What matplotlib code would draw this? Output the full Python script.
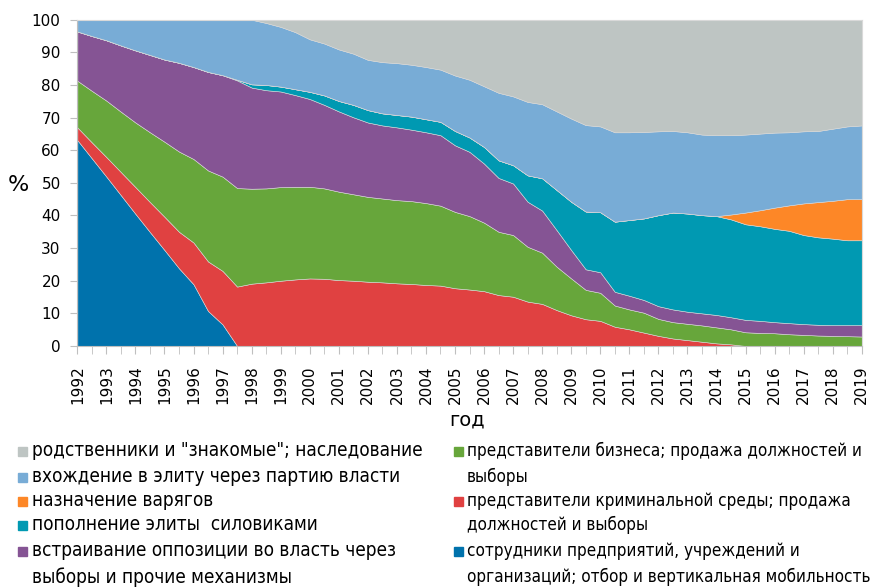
import numpy as np
import matplotlib
matplotlib.use("Agg")
import matplotlib.pyplot as plt
from matplotlib.patches import Rectangle
from matplotlib import font_manager
from matplotlib.font_manager import FontProperties

# half-year points 1992 .. 2019
periods = np.arange(1992, 2019.5, 0.5)
years = list(range(1992, 2020))

# layer thickness, %, bottom -> top
staff = [63.1, 57.5, 51.9, 46.2, 40.5, 34.9, 29.4, 23.8, 18.9, 10.7, 6.6, 0] + [0] * 43
criminal = [3.9, 4.9, 6.0, 7.1, 8.2, 9.2, 10.2, 11.2, 12.8, 15.2, 16.4, 18.2, 19.1, 19.5,
            20.0, 20.4, 20.7, 20.6, 20.2, 20.0, 19.7, 19.5, 19.2, 19.0, 18.7, 18.5, 17.7,
            17.3, 16.8, 15.6, 15.1, 13.6, 12.9, 11.0, 9.4, 8.2, 7.7, 5.9, 5.1, 4.1, 3.1,
            2.3, 1.8, 1.3, 0.8, 0.5] + [0] * 9
business = [14.3, 15.8, 17.3, 18.5, 19.8, 21.4, 23.0, 24.6, 25.6, 27.9, 28.9, 30.2, 29.1,
            28.8, 28.7, 28.4, 28.1, 27.7, 27.1, 26.5, 26.0, 25.7, 25.5, 25.4, 25.1, 24.5,
            23.4, 22.5, 21.0, 19.4, 18.9, 16.8, 15.7, 13.3, 11.3, 9.0, 8.6, 6.5, 6.1, 6.1,
            5.2, 5.0, 5.0, 5.0, 4.9, 4.6, 4.2, 4.0, 3.9, 3.6, 3.4, 3.2, 3.1, 3.0, 2.9]
opposition = [15.1, 16.8, 18.5, 20.3, 22.1, 23.7, 25.2, 27.2, 28.2, 30.2, 31.1, 33.0, 31.0,
              30.1, 29.3, 28.1, 26.9, 25.6, 24.6, 23.6, 22.8, 22.4, 22.3, 21.9, 21.7, 21.6,
              20.4, 19.7, 18.1, 16.5, 15.8, 13.8, 12.9, 11.2, 8.7, 6.3, 6.3, 4.2, 4.2, 3.9,
              3.9, 3.9, 3.7, 3.7, 3.8, 3.7, 3.8, 3.7, 3.4, 3.4, 3.3, 3.3, 3.3, 3.4, 3.5]
siloviki = [0] * 11 + [0.2, 1.0, 1.6, 1.5, 1.8, 2.2, 2.9, 3.2, 3.8, 3.8, 3.7, 3.8, 4.0, 4.0,
                       4.1, 4.4, 4.4, 5.1, 5.4, 5.6, 8.1, 9.9, 12.3, 14.8, 17.7, 18.4, 21.5,
                       23.2, 25.0, 27.9, 29.7, 30.1, 30.1, 30.3, 30.0, 29.3, 29.0, 28.6, 28.3,
                       27.3, 26.8, 26.5, 26.0, 26.0]
varyagi = [0] * 44 + [0, 1.5, 3.6, 4.9, 6.5, 7.8, 9.7, 10.8, 11.6, 12.6, 12.6]
party = [3.6, 5.0, 6.3, 7.9, 9.4, 10.8, 12.2, 13.2, 14.5, 16.0, 17.0, 18.4, 19.8, 19.0, 18.3,
         17.5, 16.1, 15.9, 15.8, 15.7, 15.4, 15.7, 15.9, 15.9, 16.0, 16.0, 17.0, 17.7, 18.6,
         20.7, 21.1, 22.5, 22.7, 24.1, 25.5, 26.5, 26.3, 27.4, 26.9, 26.5, 25.7, 25.0, 24.9,
         24.7, 24.8, 24.3, 23.9, 23.5, 23.0, 22.4, 22.1, 21.8, 22.1, 22.3, 22.6]
relatives = [0] * 13 + [1.0, 2.2, 3.8, 6.0, 7.3, 9.1, 10.4, 12.3, 13.0, 13.3, 13.8, 14.5, 15.3,
                        17.1, 18.4, 20.4, 22.4, 23.5, 25.2, 25.9, 28.1, 30.3, 32.3, 32.7, 34.5,
                        34.5, 34.4, 34.2, 34.1, 34.5, 35.2, 35.4, 35.4, 35.2, 34.9, 34.6, 34.5,
                        34.2, 34.1, 33.4, 32.7, 32.4]

layers = [staff, criminal, business, opposition, siloviki, varyagi, party, relatives]
colors = ['#0072AC', '#E04141', '#67A63B', '#855494', '#0099B2', '#FD8727', '#78ACD6', '#BEC5C3']

# legend: (marker colour or None for a continuation line, text)
left_items = [('#BEC5C3', 'родственники и "знакомые"; наследование'),
              ('#78ACD6', 'вхождение в элиту через партию власти'),
              ('#FD8727', 'назначение варягов'),
              ('#0099B2', 'пополнение элиты  силовиками'),
              ('#855494', 'встраивание оппозиции во власть через'),
              (None, 'выборы и прочие механизмы')]
right_items = [('#67A63B', 'представители бизнеса; продажа должностей и'),
               (None, 'выборы'),
               ('#E04141', 'представители криминальной среды; продажа'),
               (None, 'должностей и выборы'),
               ('#0072AC', 'сотрудники предприятий, учреждений и'),
               (None, 'организаций; отбор и вертикальная мобильность')]
rows = [451, 477, 501, 525, 551, 577]


def have_font(name):
    try:
        font_manager.findfont(FontProperties(family=name), fallback_to_default=False)
        return True
    except Exception:
        return False


leg_family = 'DejaVu Sans'
leg_stretch = 'condensed'
for name in ['Liberation Sans Narrow', 'Arial Narrow']:
    if have_font(name):
        leg_family = name
        leg_stretch = 'normal'
        break

fig = plt.figure(figsize=(8.93, 5.87), dpi=100)
ax = fig.add_axes([0.0866, 0.4106, 0.8784, 0.5558])
ax.stackplot(periods, *layers, colors=colors, linewidth=0.4, edgecolor='#d8d8d8')

ax.set_xlim(1992, 2019)
ax.set_ylim(0, 100)
ax.set_yticks(range(0, 101, 10))
ax.set_xticks(years)
ax.set_xticklabels([str(y) for y in years], rotation=90, fontsize=11)
ax.set_xticks(periods, minor=True)
ax.tick_params(axis='x', which='both', direction='out', length=6, color='#bfbfbf', pad=8)
ax.tick_params(axis='y', direction='out', length=5, color='#bfbfbf', labelsize=11, pad=7)
for s in ax.spines.values():
    s.set_color('#d9d9d9')
    s.set_linewidth(0.8)
ax.spines['left'].set_color('#bfbfbf')
ax.spines['bottom'].set_color('#bfbfbf')

fig.text(0.021, 1 - 185 / 587, '%', fontsize=16, ha='center', va='center')
fig.text(0.523, 1 - 420 / 587, 'год', fontsize=14, ha='center', va='center')

# size the legend font per column so the widest entries span their reference width
renderer = fig.canvas.get_renderer()


def text_width(s):
    t = fig.text(0, 0, s, fontsize=10, family=leg_family, stretch=leg_stretch)
    w = t.get_window_extent(renderer).width
    t.remove()
    return w


left_size = min(10 * 392 / text_width(left_items[0][1]), 15)
right_size = min(10 * 395 / text_width(right_items[0][1]),
                 10 * 424 / text_width(right_items[5][1]), 15)

for x_box, x_text, items, size in [(18, 32, left_items, left_size),
                                   (454, 467, right_items, right_size)]:
    for (col, lab), r in zip(items, rows):
        y = 1 - r / 587
        if col is not None:
            fig.patches.append(Rectangle((x_box / 893, y - 4.5 / 587), 9 / 893, 9 / 587,
                                         color=col, transform=fig.transFigure, figure=fig))
        fig.text(x_text / 893, y, lab, fontsize=size, family=leg_family,
                 stretch=leg_stretch, va='center', ha='left')

fig.savefig('out.png', dpi=100)
